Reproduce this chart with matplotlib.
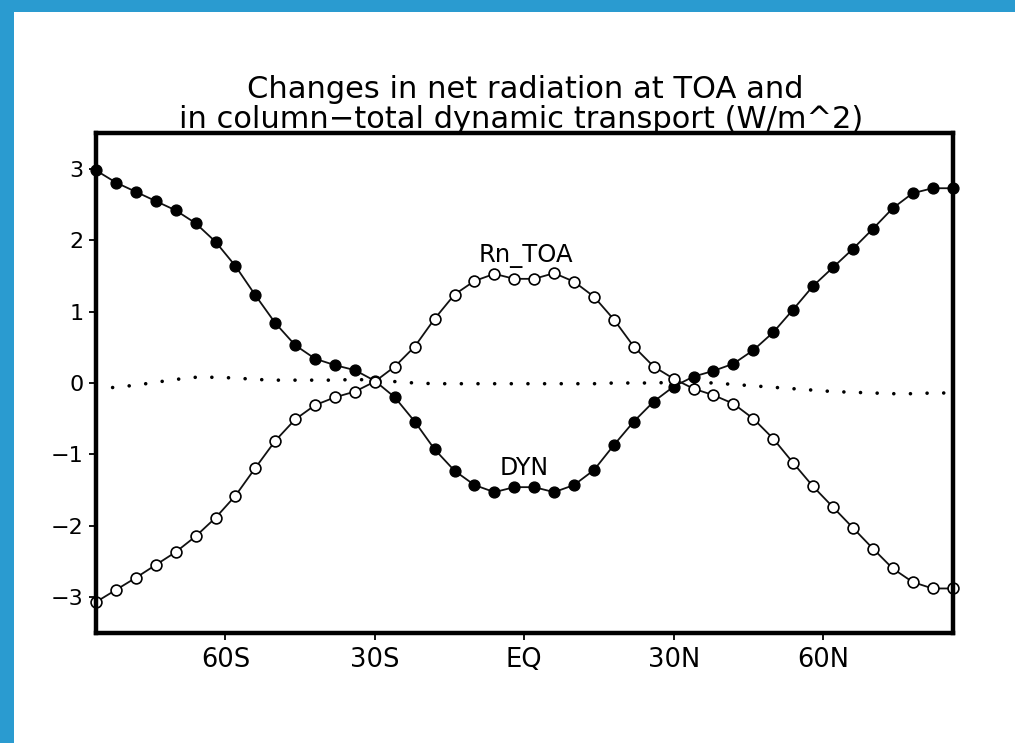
import matplotlib
matplotlib.use("Agg")
import matplotlib.pyplot as plt
from matplotlib.patches import Rectangle

# ---------------- data ----------------
lats = list(range(-86, 87, 4))  # 44 latitudes

dyn = [2.98, 2.81, 2.68, 2.55, 2.42, 2.24, 1.98, 1.64, 1.23, 0.84, 0.53, 0.34, 0.25, 0.18, 0.03,
       -0.20, -0.54, -0.93, -1.23, -1.43, -1.53, -1.46,
       -1.46, -1.53, -1.43, -1.22, -0.87, -0.54, -0.26, -0.05,
       0.09, 0.17, 0.27, 0.46, 0.71, 1.03, 1.36, 1.62, 1.88, 2.16, 2.45, 2.66, 2.73, 2.73]

rn_toa = [-3.07, -2.90, -2.73, -2.55, -2.37, -2.15, -1.89, -1.58, -1.19, -0.81, -0.51, -0.31, -0.20, -0.12, 0.02,
          0.23, 0.51, 0.90, 1.24, 1.43, 1.53, 1.46,
          1.46, 1.54, 1.42, 1.21, 0.89, 0.51, 0.23, 0.06,
          -0.08, -0.17, -0.29, -0.50, -0.78, -1.12, -1.45, -1.74, -2.03, -2.32, -2.60, -2.79, -2.88, -2.88]

total = [-0.08, -0.06, -0.03, 0.01, 0.05, 0.08, 0.08, 0.07, 0.05, 0.04, 0.04, 0.04, 0.04, 0.05, 0.04,
         0.02, 0.00, -0.01, -0.01, -0.01, -0.01, -0.01,
         -0.01, -0.01, -0.01, -0.01, 0.00, 0.00, 0.00, 0.01,
         0.01, 0.00, -0.02, -0.04, -0.06, -0.08, -0.10, -0.12, -0.13, -0.14, -0.15, -0.15, -0.14, -0.14]

xticks = [-60, -30, 0, 30, 60]
xticklabels = ["60S", "30S", "EQ", "30N", "60N"]
yticks = [-3, -2, -1, 0, 1, 2, 3]
yticklabels = ["\u22123", "\u22122", "\u22121", "0", "1", "2", "3"]

title1 = "Changes in net radiation at TOA and"
title2 = "in column\u2212total dynamic transport (W/m^2)"

# ---------------- figure ----------------
W, H = 1015, 743
fig = plt.figure(figsize=(W / 100, H / 100), dpi=100)
fig.patch.set_facecolor("white")

# blue frame strips (top and left)
blue = "#2a9bd0"
fig.patches.append(Rectangle((0, 1 - 12 / H), 1, 12 / H, transform=fig.transFigure,
                             facecolor=blue, edgecolor="none", zorder=0))
fig.patches.append(Rectangle((0, 0), 14 / W, 1, transform=fig.transFigure,
                             facecolor=blue, edgecolor="none", zorder=0))

left, right, top, bottom = 96, 952.5, 133.3, 632.7
ax = fig.add_axes([left / W, 1 - bottom / H, (right - left) / W, (bottom - top) / H])

ax.plot(lats, total, color="black", linestyle=(0, (0.01, 4.6)), linewidth=2.6,
        dash_capstyle="round", zorder=2)
ax.plot(lats, dyn, color="#111111", linewidth=1.3, marker="o", markersize=7.8,
        markerfacecolor="black", markeredgecolor="black", zorder=3, clip_on=False)
ax.plot(lats, rn_toa, color="#111111", linewidth=1.3, marker="o", markersize=7.8,
        markerfacecolor="white", markeredgecolor="black", markeredgewidth=1.2, zorder=4,
        clip_on=False)

ax.set_xlim(-86, 86)
ax.set_ylim(-3.5, 3.5)
ax.set_xticks(xticks)
ax.set_xticklabels(xticklabels)
ax.set_yticks(yticks)
ax.set_yticklabels(yticklabels)

for s in ax.spines.values():
    s.set_linewidth(3.2)
    s.set_zorder(5)
ax.tick_params(axis="both", direction="out", length=5, width=1.3, colors="black")
ax.tick_params(axis="x", labelsize=18.5, pad=5)
ax.tick_params(axis="y", labelsize=16, pad=4)

# title lines
fig.text(525 / W, 1 - 98 / H, title1, ha="center", va="baseline", fontsize=22)
fig.text(521 / W, 1 - 128 / H, title2, ha="center", va="baseline", fontsize=22)

# curve labels
fig.text(526 / W, 1 - 262 / H, "Rn_TOA", ha="center", va="baseline", fontsize=17.5)
fig.text(524 / W, 1 - 475 / H, "DYN", ha="center", va="baseline", fontsize=17)

fig.savefig("out.png", dpi=100)
